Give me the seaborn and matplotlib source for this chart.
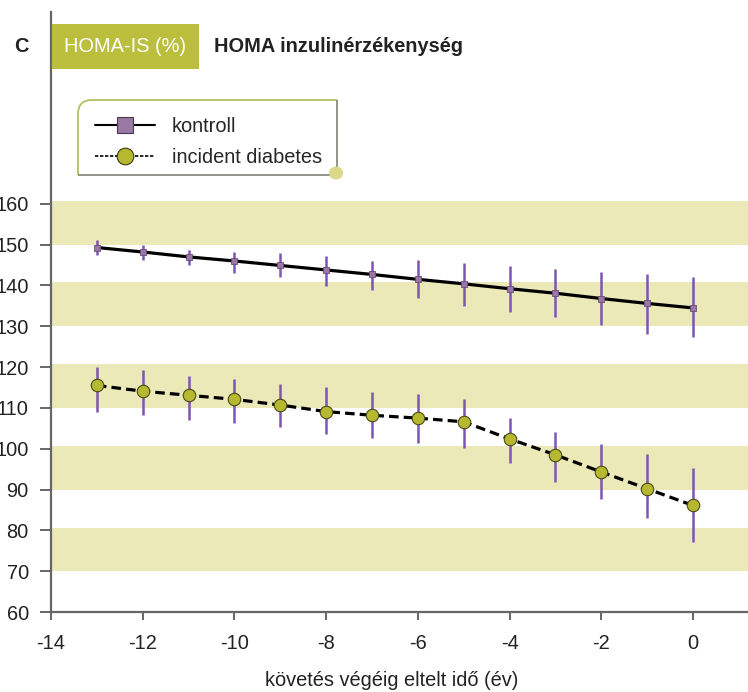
import numpy as np
import pandas as pd
import matplotlib
matplotlib.use("Agg")
import matplotlib.pyplot as plt
import seaborn as sns
from matplotlib.lines import Line2D
from matplotlib.patches import Rectangle, PathPatch, Circle
from matplotlib.path import Path

# data
years = list(range(-13, 1))
kontroll = [149.3, 148.2, 147.0, 146.0, 144.9, 143.8, 142.7, 141.5, 140.4, 139.2, 138.1, 136.8, 135.6, 134.5]
kontroll_lo = [147.4, 146.2, 144.9, 143.1, 142.0, 139.8, 138.8, 136.9, 135.0, 133.4, 132.3, 130.2, 128.1, 127.3]
kontroll_hi = [151.2, 150.0, 148.7, 148.2, 148.0, 147.1, 146.0, 146.2, 145.5, 144.8, 144.1, 143.2, 142.7, 142.1]
diabetes = [115.5, 114.1, 113.1, 112.1, 110.7, 109.1, 108.2, 107.5, 106.6, 102.4, 98.5, 94.3, 90.2, 86.1]
diabetes_lo = [109.0, 108.3, 107.1, 106.4, 105.3, 103.6, 102.6, 101.4, 100.3, 96.4, 91.9, 87.7, 83.0, 77.2]
diabetes_hi = [120.0, 119.3, 117.8, 117.1, 115.9, 115.1, 114.0, 113.3, 112.1, 107.6, 104.0, 101.1, 98.8, 95.4]
bands = [(70, 80.6), (90, 100.6), (110, 120.8), (130, 140.8), (150, 160.8)]
x_ticks = list(range(-14, 1, 2))
y_ticks = list(range(60, 161, 10))
series_names = ["kontroll", "incident diabetes"]

OLIVE = "#bcbf3e"
BAND = "#eae9b7"
PURPLE = "#7d55b4"
W, H = 748, 692
FS = 14.4

sns.set_style("white")
plt.rcParams["font.family"] = ["Liberation Sans", "DejaVu Sans"]
plt.rcParams["axes.unicode_minus"] = False

df = pd.DataFrame({
    "year": years * 2,
    "value": kontroll + diabetes,
    "lo": kontroll_lo + diabetes_lo,
    "hi": kontroll_hi + diabetes_hi,
    "group": [series_names[0]] * len(years) + [series_names[1]] * len(years),
})

fig = plt.figure(figsize=(W / 100, H / 100), dpi=100)
ax = fig.add_axes([51 / W, 1 - 612 / H, 1 - 51 / W, (612 - 12) / H])

for lo, hi in bands:
    ax.axhspan(lo, hi, color=BAND, lw=0, zorder=0)

# error bars
ax.vlines(df["year"], df["lo"], df["hi"], color=PURPLE, lw=1.8, zorder=2)

sns.lineplot(data=df[df.group == "kontroll"], x="year", y="value", ax=ax,
             color="black", lw=2.3, marker="s", markersize=5,
             markerfacecolor="#9a78a6", markeredgecolor="#6b4a7a",
             markeredgewidth=0.6, zorder=3)
sns.lineplot(data=df[df.group == "incident diabetes"], x="year", y="value", ax=ax,
             color="black", lw=2.3, linestyle=(0, (3, 1.6)), marker="o",
             markersize=9, markerfacecolor="#b6b92f", markeredgecolor="#4a4a1a",
             markeredgewidth=0.8, zorder=3)

ax.set_xlim(-14, (W - 51) / 45.86 - 14)
ax.set_ylim(60, 207)
ax.set_xticks(x_ticks)
ax.set_yticks(y_ticks)
ax.tick_params(axis="y", direction="out", length=8, width=1.4, color="#666666",
               pad=8, labelsize=FS, labelcolor="#222222", left=True)
ax.tick_params(axis="x", direction="out", length=6, width=1.4, color="#666666",
               pad=10, labelsize=FS, labelcolor="#222222", bottom=True)
for s in ["top", "right"]:
    ax.spines[s].set_visible(False)
for s in ["left", "bottom"]:
    ax.spines[s].set_color("#666666")
    ax.spines[s].set_linewidth(1.6)
ax.set_xlabel("követés végéig eltelt idő (év)", fontsize=FS, color="#222222", va="center")
ax.xaxis.set_label_coords((391.5 - 51) / (W - 51), (612 - 680) / 600)
ax.set_ylabel("")


def fx(px):
    return px / W


def fy(py):
    return 1 - py / H


# header
fig.text(fx(14), fy(46), "C", fontsize=FS, fontweight="bold", ha="left", va="center", color="#222222")
fig.patches.append(Rectangle((fx(52), fy(69)), fx(199) - fx(52), fy(24) - fy(69),
                             transform=fig.transFigure, color=OLIVE, lw=0))
fig.text(fx(125), fy(46), "HOMA-IS (%)", fontsize=FS, ha="center", va="center", color="white")
fig.text(fx(214), fy(46), "HOMA inzulinérzékenység", fontsize=FS, fontweight="bold",
         ha="left", va="center", color="#222222")

# legend box
x0, x1, y0, y1, r = 78, 337, 100, 175, 14
p_olive = Path([(fx(x0), fy(y1)), (fx(x0), fy(y0 + r)), (fx(x0), fy(y0)), (fx(x0 + r), fy(y0)),
                (fx(x1), fy(y0))],
               [Path.MOVETO, Path.LINETO, Path.CURVE3, Path.CURVE3, Path.LINETO])
p_gray = Path([(fx(x1), fy(y0)), (fx(x1), fy(y1)), (fx(x0), fy(y1))],
              [Path.MOVETO, Path.LINETO, Path.LINETO])
fig.patches.append(PathPatch(p_olive, transform=fig.transFigure, fill=False, ec="#b3c060", lw=1.3))
fig.patches.append(PathPatch(p_gray, transform=fig.transFigure, fill=False, ec="#8a8a80", lw=1.3))
fig.patches.append(Circle((fx(336), fy(173)), 7 / W, transform=fig.transFigure,
                          color="#d9d98a", lw=0))

handles = [
    Line2D([], [], color="black", lw=1.5, marker="s", markersize=11,
           markerfacecolor="#9a78a6", markeredgecolor="#4a3a50", markeredgewidth=0.8),
    Line2D([], [], color="black", lw=1.2, linestyle=(0, (2, 1)), marker="o", markersize=12,
           markerfacecolor="#b6b92f", markeredgecolor="#3a3a10", markeredgewidth=0.8),
]
ax.legend(handles, series_names, loc="upper left", bbox_to_anchor=(fx(85), fy(107)),
          bbox_transform=fig.transFigure, frameon=False, fontsize=FS,
          handlelength=3.0, handletextpad=0.85, labelspacing=0.6, borderpad=0)

fig.savefig("out.png", dpi=100)
